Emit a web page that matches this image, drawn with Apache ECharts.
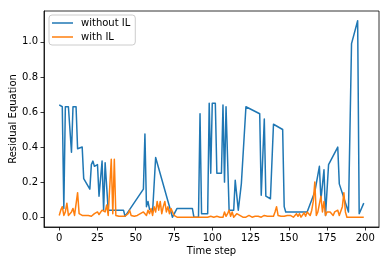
<!DOCTYPE html>
<html><head><meta charset="utf-8">
<script src="https://cdn.jsdelivr.net/npm/echarts@6/dist/echarts.min.js"></script>
<style>html,body{margin:0;padding:0;background:#fff}#c{width:389px;height:266px}</style>
</head><body><div id="c"></div>
<script>
const xTicks = [0, 25, 50, 75, 100, 125, 150, 175, 200];
const yTicks = [0.0, 0.2, 0.4, 0.6, 0.8, 1.0];
const seriesNames = ['without IL', 'with IL'];
const xTitle = 'Time step';
const yTitle = 'Residual Equation';

// "without IL": recorded at irregular time steps
const withoutILSteps = [0,1,2,3,4,5,6,8,9,11,12,15,16,17,20,21,22,23,25,26,27,28,29,30,31,32,42,43,44,55,56,57,58,59,61,62,63,74,75,77,87,88,91,92,93,97,98,99,100,102,103,106,107,108,109,110,111,114,115,116,117,119,120,122,131,132,133,134,135,138,140,146,147,148,162,167,170,171,172,173,174,176,182,183,189,191,195,196,199];
const withoutILValues = [0.64,0.635,0.63,0.05,0.63,0.63,0.63,0.37,0.63,0.63,0.39,0.40,0.22,0.21,0.16,0.30,0.32,0.29,0.30,0.12,0.12,0.32,0.04,0.31,0.30,0.04,0.04,0.005,0.005,0.16,0.475,0.06,0.09,0.045,0.03,0.03,0.34,0.0,0.0,0.05,0.05,0.0,0.0,0.59,0.02,0.02,0.65,0.25,0.65,0.65,0.25,0.25,0.64,0.2,0.63,0.63,0.04,0.04,0.21,0.21,0.04,0.19,0.19,0.63,0.59,0.125,0.125,0.56,0.12,0.105,0.53,0.50,0.06,0.03,0.03,0.145,0.29,0.10,0.11,0.27,0.01,0.30,0.40,0.19,0.03,0.99,1.12,0.02,0.08];

// "with IL": one value per time step 0..199
const withILValues = [
0.01,0.04,0.06,0.01,0.03,0.08,0.01,0.02,0.03,0.05,
0.01,0.02,0.14,0.02,0.02,0.01,0.02,0.01,0.015,0.01,
0.02,0.005,0.01,0.02,0.01,0.03,0.015,0.02,0.04,0.05,
0.03,0.07,0.01,0.02,0.33,0.02,0.33,0.01,0.005,0.005,
0.005,0.005,0.005,0.005,0.01,0.02,0.04,0.01,0.01,0.005,
0.01,0.01,0.01,0.02,0.015,0.03,0.02,0.01,0.04,0.02,
0.05,0.01,0.06,0.03,0.09,0.04,0.09,0.02,0.06,0.09,
0.03,0.06,0.02,0.05,0.03,0.01,0.0,0.0,0.0,0.0,
0.0,0.0,0.0,0.0,0.0,0.0,0.0,0.0,0.0,0.0,
0.0,0.0,0.005,0.0,0.0,0.0,0.0,0.0,0.0,0.005,
0.005,0.0,0.0,0.005,0.01,0.0,0.01,0.0,0.03,0.005,
0.02,0.04,0.005,0.03,0.0,0.01,0.02,0.03,0.01,0.005,
0.0,0.005,0.0,0.005,0.01,0.005,0.0,0.01,0.005,0.0,
0.005,0.01,0.0,0.005,0.01,0.02,0.005,0.01,0.005,0.01,
0.005,0.03,0.06,0.01,0.0,0.005,0.01,0.005,0.0,0.01,
0.005,0.01,0.02,0.0,0.01,0.02,0.005,0.02,0.0,0.01,
0.025,0.005,0.03,0.04,0.01,0.04,0.09,0.2,0.01,0.03,
0.02,0.12,0.03,0.09,0.01,0.03,0.02,0.03,0.04,0.01,
0.03,0.02,0.04,0.01,0.02,0.06,0.14,0.03,0.0,0.0,
0.0,0.0,0.0,0.0,0.0,0.0,0.0,0.0,0.0,0.0
];

const blueData = withoutILSteps.map((s, i) => [s, withoutILValues[i]]);
const orangeData = withILValues.map((v, i) => [i, v]);

const FONT = 'DejaVu Sans';
const chart = echarts.init(document.getElementById('c'), null, {renderer: 'canvas'});
const axisCommon = {
  axisLine: {show: true, onZero: false, lineStyle: {color: '#000', width: 0.8}},
  axisTick: {show: true, inside: false, length: 3.5, lineStyle: {color: '#000', width: 0.8}},
  splitLine: {show: false},
  nameMoveOverlap: false,
  nameTextStyle: {color: '#000', fontFamily: FONT, fontSize: 10},
};
chart.setOption({
  animation: false,
  backgroundColor: '#fff',
  grid: {left: 44, right: 10, top: 11, bottom: 39, show: true, borderColor: '#000', borderWidth: 0.8,
         containLabel: false, outerBoundsMode: 'none'},
  legend: {
    orient: 'vertical', left: 49, top: 15,
    data: seriesNames,
    icon: 'rect', itemWidth: 21, itemHeight: 1.5, itemGap: 4,
    backgroundColor: 'rgba(255,255,255,0.8)', borderColor: '#ccc', borderWidth: 1, borderRadius: 3,
    padding: [3, 5, 3, 3],
    textStyle: {color: '#000', fontFamily: FONT, fontSize: 10, padding: [0, 0, 0, 3]}
  },
  xAxis: Object.assign({}, axisCommon, {
    type: 'value', min: -9.95, max: 208.95,
    name: xTitle, nameLocation: 'middle', nameGap: 19,
    axisTick: Object.assign({}, axisCommon.axisTick, {customValues: xTicks}),
    axisLabel: {customValues: xTicks, margin: 6, color: '#000', fontFamily: FONT, fontSize: 10, formatter: v => String(v)}
  }),
  yAxis: Object.assign({}, axisCommon, {
    type: 'value', min: -0.056, max: 1.176,
    name: yTitle, nameLocation: 'middle', nameGap: 26, nameRotate: 90,
    axisTick: Object.assign({}, axisCommon.axisTick, {customValues: yTicks}),
    axisLabel: {customValues: yTicks, margin: 6, color: '#000', fontFamily: FONT, fontSize: 10, formatter: v => v.toFixed(1)}
  }),
  series: [
    {name: seriesNames[0], type: 'line', data: blueData, showSymbol: false, symbol: 'none', color: '#1f77b4',
     lineStyle: {width: 1.5, color: '#1f77b4', join: 'round'}},
    {name: seriesNames[1], type: 'line', data: orangeData, showSymbol: false, symbol: 'none', color: '#ff7f0e',
     lineStyle: {width: 1.5, color: '#ff7f0e', join: 'round'}}
  ]
});
</script>
</body></html>
